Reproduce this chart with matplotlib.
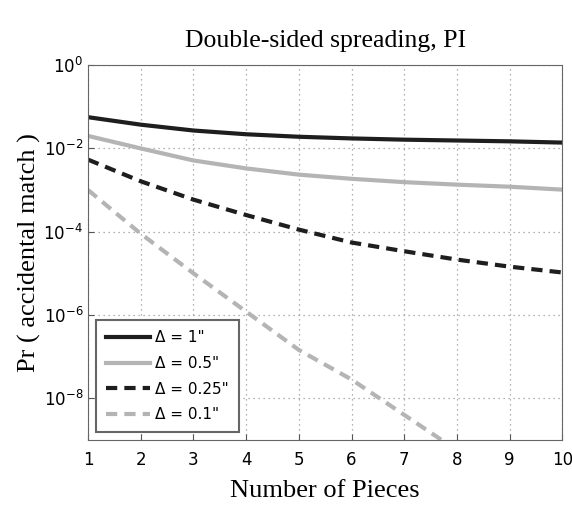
import numpy as np
import matplotlib.pyplot as plt
from matplotlib.ticker import LogLocator, NullLocator

# Dados (log10 da probabilidade)
pecas = [1, 2, 3, 4, 5, 6, 7, 8, 9, 10]
log_d1 = [-1.25, -1.43, -1.57, -1.66, -1.72, -1.76, -1.79, -1.81, -1.83, -1.86]
log_d05 = [-1.70, -2.00, -2.29, -2.48, -2.63, -2.73, -2.81, -2.87, -2.92, -2.99]
log_d025 = [-2.27, -2.79, -3.23, -3.60, -3.95, -4.26, -4.47, -4.67, -4.84, -4.98]
log_d01 = [-3.00, -4.05, -5.00, -5.92, -6.84, -7.55, -8.40, -9.25, -10.1, -11.0]

series = [
    (log_d1, "#1e1e1e", "-", "\u0394 = 1\""),
    (log_d05, "#b4b4b4", "-", "\u0394 = 0.5\""),
    (log_d025, "#1e1e1e", (0, (2.7, 1.7)), "\u0394 = 0.25\""),
    (log_d01, "#b4b4b4", (0, (2.7, 1.7)), "\u0394 = 0.1\""),
]

fig = plt.figure(figsize=(5.72, 5.05), dpi=100)
ax = fig.add_axes([0.154, 0.129, 0.829, 0.742])

for vals, cor, estilo, rotulo in series:
    ax.semilogy(pecas, 10 ** np.array(vals), color=cor, linestyle=estilo, lw=3, label=rotulo)

ax.set_xlim(1, 10)
ax.set_ylim(1e-9, 1)
ax.set_xticks(range(1, 11))
ax.yaxis.set_major_locator(LogLocator(base=100))
ax.yaxis.set_minor_locator(NullLocator())
ax.grid(True, linestyle=(0, (1, 3)), color="#999999", lw=0.9)
ax.tick_params(direction="in", length=4, labelsize=12, color="#555555")
ax.tick_params(axis="x", pad=8)
for s in ax.spines.values():
    s.set_color("#666666")

serif = "Liberation Serif"
ax.set_title("Double-sided spreading, PI", fontfamily=serif, fontsize=18.5, pad=13)
ax.set_xlabel("Number of Pieces", fontfamily=serif, fontsize=19, labelpad=8)
ax.set_ylabel("Pr ( accidental match )", fontfamily=serif, fontsize=19, labelpad=2)

leg = ax.legend(loc="lower left", fontsize=11, handlelength=2.9, handletextpad=0.35,
                fancybox=False, framealpha=1, edgecolor="#666666", borderaxespad=0.5,
                labelspacing=0.7, borderpad=0.65)
leg.get_frame().set_linewidth(1.5)

plt.savefig("out.png", dpi=100)
